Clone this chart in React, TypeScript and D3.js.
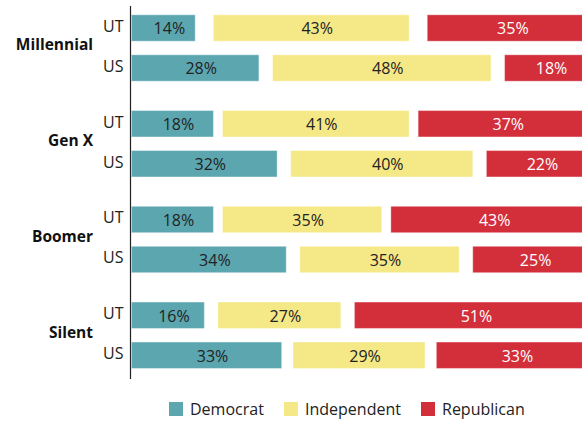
import React from "react";
import * as d3 from "d3";

const generations = ["Millennial", "Gen X", "Boomer", "Silent"];
const regions = ["UT", "US"];
const parties = ["Democrat", "Independent", "Republican"];
const colors = ["#5ca6b0", "#f5e886", "#d32f3b"];
const textColors = ["#222222", "#222222", "#ffffff"];

// values per generation, [UT, US]
const democrat = [[14, 28], [18, 32], [18, 34], [16, 33]];
const independent = [[43, 48], [41, 40], [35, 35], [27, 29]];
const republican = [[35, 18], [37, 22], [43, 25], [51, 33]];

const W = 582;
const H = 423;
const FONT = "'Open Sans', sans-serif";

export default function App() {
  const x = d3.scaleLinear().domain([0, 100]).range([131.5, 586.5]);
  const yGroup = d3.scaleBand().domain(generations).range([0, 383]);
  const yInner = d3
    .scaleBand()
    .domain(regions)
    .range([8, 88])
    .paddingInner(0.34)
    .paddingOuter(0.17);

  const rows: any[] = [];
  generations.forEach((g, gi) => {
    regions.forEach((r, ri) => {
      const d = democrat[gi][ri];
      const i = independent[gi][ri];
      const p = republican[gi][ri];
      const gap = (100 - d - i - p) / 2;
      const segs = [
        { k: 0, v: d, x0: 0, x1: d },
        { k: 1, v: i, x0: d + gap, x1: d + gap + i },
        { k: 2, v: p, x0: 100 - p, x1: 100 },
      ];
      rows.push({ g, r, y: (yGroup(g) as number) + (yInner(r) as number), segs });
    });
  });

  const bw = yInner.bandwidth();
  const legendX = [169, 284, 421];

  return (
    <svg width={W} height={H} style={{ position: "absolute", left: 0, top: 0 }}>
      <rect width={W} height={H} fill="#fff" />
      {rows.map((row, idx) => (
        <g key={idx}>
          {row.segs.map((s: any) => (
            <g key={s.k}>
              <rect
                x={x(s.x0)}
                y={row.y}
                width={x(s.x1) - x(s.x0)}
                height={bw}
                fill={colors[s.k]}
                stroke="#ffffff"
                strokeOpacity={0.35}
                strokeWidth={1}
              />
              <text
                x={(x(s.x0) + x(s.x1)) / 2 + 6}
                y={row.y + bw / 2}
                dy="0.4em"
                textAnchor="middle"
                fontFamily={FONT}
                fontSize={16}
                fill={textColors[s.k]}
              >
                {s.v}%
              </text>
            </g>
          ))}
          <text
            x={123.5}
            y={row.y + bw / 2 - 2}
            dy="0.36em"
            textAnchor="end"
            fontFamily={FONT}
            fontSize={16}
            fill="#222"
          >
            {row.r}
          </text>
        </g>
      ))}
      {generations.map((g) => (
        <text
          key={g}
          x={93}
          y={(yGroup(g) as number) + yGroup.bandwidth() / 2 - 3}
          dy="0.36em"
          textAnchor="end"
          fontFamily={FONT}
          fontSize={15.5}
          fontWeight="bold"
          fill="#111"
        >
          {g}
        </text>
      ))}
      <line x1={130.5} x2={130.5} y1={6} y2={379} stroke="#222" strokeWidth={1.2} />
      {parties.map((p, i) => (
        <g key={p} transform={`translate(${legendX[i]},402)`}>
          <rect width={14} height={14} fill={colors[i]} />
          <text x={21} y={7} dy="0.36em" fontFamily={FONT} fontSize={16} fill="#222">
            {p}
          </text>
        </g>
      ))}
    </svg>
  );
}
